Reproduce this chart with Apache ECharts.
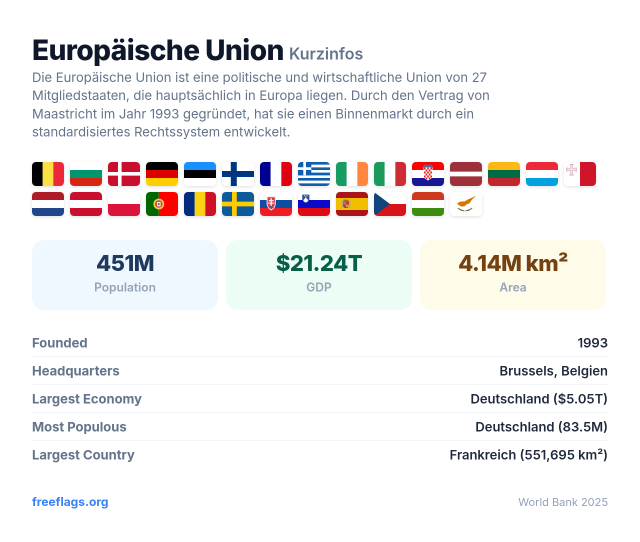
<!DOCTYPE html>
<html>
<head>
<meta charset="utf-8">
<style>
html, body { margin: 0; padding: 0; background: #fff; }
#main { width: 640px; height: 542px; }
</style>
<script src="https://cdn.jsdelivr.net/npm/echarts@6/dist/echarts.min.js"></script>
</head>
<body>
<div id="main"></div>
<script>
var titleText = 'Europäische Union';
var subtitleText = 'Kurzinfos';
var introLines = [
    'Die Europäische Union ist eine politische und wirtschaftliche Union von 27',
    'Mitgliedstaaten, die hauptsächlich in Europa liegen. Durch den Vertrag von',
    'Maastricht im Jahr 1993 gegründet, hat sie einen Binnenmarkt durch ein',
    'standardisiertes Rechtssystem entwickelt.'
];

var flagCodes = ['be', 'bg', 'dk', 'de', 'ee', 'fi', 'fr', 'gr', 'ie', 'it', 'hr', 'lv', 'lt', 'lu', 'mt',
    'nl', 'at', 'pl', 'pt', 'ro', 'se', 'sk', 'si', 'es', 'cz', 'hu', 'cy'];
var flagColumn = [0, 1, 2, 3, 4, 5, 6, 7, 8, 9, 10, 11, 12, 13, 14, 0, 1, 2, 3, 4, 5, 6, 7, 8, 9, 10, 11];
var flagRow = [0, 0, 0, 0, 0, 0, 0, 0, 0, 0, 0, 0, 0, 0, 0, 1, 1, 1, 1, 1, 1, 1, 1, 1, 1, 1, 1];
var columnNames = ['1', '2', '3', '4', '5', '6', '7', '8', '9', '10', '11', '12', '13', '14', '15'];
var rowNames = ['a', 'b'];

var statValues = ['451M', '$21.24T', '4.14M km²'];
var statLabels = ['Population', 'GDP', 'Area'];
var statBackgrounds = ['#f0f8ff', '#ecfdf5', '#fefbe9'];
var statColors = ['#1e3a5f', '#065f46', '#744210'];

var factLabels = ['Founded', 'Headquarters', 'Largest Economy', 'Most Populous', 'Largest Country'];
var factValues = ['1993', 'Brussels, Belgien', 'Deutschland ($5.05T)', 'Deutschland (83.5M)', 'Frankreich (551,695 km²)'];

var footerLeft = 'freeflags.org';
var footerRight = 'World Bank 2025';

var font = 'Inter';

// zrender has no letter spacing, the title and the stat values need it
var fillTextOrig = CanvasRenderingContext2D.prototype.fillText;
CanvasRenderingContext2D.prototype.fillText = function (t, x, y) {
    this.letterSpacing = this.font.indexOf('800') === 0 ? '-0.5px' : '0px';
    return fillTextOrig.call(this, t, x, y);
};

// parts of a flag, in a 32x24 box
function box(x, y, w, h, c) {
    return {type: 'rect', shape: {x: x, y: y, width: w, height: h}, style: {fill: c}};
}
function poly(points, c) {
    return {type: 'polygon', shape: {points: points}, style: {fill: c}};
}
function dot(x, y, r, c) {
    return {type: 'circle', shape: {cx: x, cy: y, r: r}, style: {fill: c}};
}
function vert(a, b, c) {
    var w = 32 / 3;
    return [box(0, 0, w + 0.1, 24, a), box(w, 0, w + 0.1, 24, b), box(2 * w, 0, w, 24, c)];
}
function horz(a, b, c) {
    return [box(0, 0, 32, 8.1, a), box(0, 8, 32, 8.1, b), box(0, 16, 32, 8, c)];
}
function cross(bg, fg, x, y, w) {
    return [box(0, 0, 32, 24, bg), box(x, 0, w, 24, fg), box(0, y, 32, w, fg)];
}

function flagParts(code) {
    switch (code) {
    case 'be': return vert('#000000', '#fae042', '#ed2939');
    case 'bg': return horz('#ffffff', '#00966e', '#d62612');
    case 'dk': return cross('#c8102e', '#ffffff', 10, 10, 3.6);
    case 'de': return horz('#000000', '#dd0000', '#ffce00');
    case 'ee': return horz('#1791ff', '#000000', '#ffffff');
    case 'fi': return cross('#ffffff', '#003580', 8.8, 9, 6);
    case 'fr': return vert('#000091', '#ffffff', '#e1000f');
    case 'gr':
        var g = [box(0, 0, 32, 24, '#ffffff')];
        for (var i = 0; i < 5; i++) g.push(box(0, i * 5.33, 32, 2.67, '#0d5eaf'));
        g.push(box(0, 0, 13.3, 13.3, '#0d5eaf'), box(5.3, 0, 2.67, 13.3, '#ffffff'), box(0, 5.3, 13.3, 2.67, '#ffffff'));
        return g;
    case 'ie': return vert('#169b62', '#ffffff', '#ff883e');
    case 'it': return vert('#1b9a5c', '#ffffff', '#ce2b37');
    case 'hr':
        var h = horz('#ff0000', '#ffffff', '#171796');
        h.push(poly([[11.5, 4.5], [20.5, 4.5], [20.5, 14], [19, 17], [16, 18.5], [13, 17], [11.5, 14]], '#ffffff'));
        h.push(box(11.5, 2.8, 9, 2.6, '#4a6aa8'));
        for (var r = 0; r < 6; r++) {
            for (var k = 0; k < 5; k++) {
                if ((r + k) % 2 === 0) h.push(box(12 + k * 1.6, 5.5 + r * 2, 1.6, 2, '#e8202a'));
            }
        }
        return h;
    case 'lv': return [box(0, 0, 32, 24, '#9e3039'), box(0, 9.6, 32, 4.8, '#ffffff')];
    case 'lt': return horz('#fdb913', '#006a44', '#c1272d');
    case 'lu': return horz('#ed2939', '#ffffff', '#00a1de');
    case 'mt':
        return [box(0, 0, 16, 24, '#ffffff'), box(16, 0, 16, 24, '#cf142b'),
            poly([[5.4, 2], [9.6, 2], [8.6, 6.2], [12.8, 5.4], [12.8, 9.6], [8.6, 8.8], [9.6, 13.6], [5.4, 13.6], [6.4, 8.8], [2.2, 9.6], [2.2, 5.4], [6.4, 6.2]], '#dcb0b8'),
            poly([[6.2, 3], [8.8, 3], [7.9, 6.8], [11.8, 6.2], [11.8, 8.8], [7.9, 8.2], [8.8, 12.6], [6.2, 12.6], [7.1, 8.2], [3.2, 8.8], [3.2, 6.2], [7.1, 6.8]], '#e9e6e7')];
    case 'nl': return horz('#ae1c28', '#ffffff', '#21468b');
    case 'at': return horz('#c8102e', '#ffffff', '#c8102e');
    case 'pl': return [box(0, 0, 32, 12, '#ffffff'), box(0, 12, 32, 12, '#dc143c')];
    case 'pt':
        return [box(0, 0, 12.8, 24, '#006600'), box(12.8, 0, 19.2, 24, '#ff0000'),
            dot(12.8, 12, 5.4, '#e8d04a'), dot(12.8, 12, 3.8, '#d24a36'), box(11, 10, 3.6, 4.4, '#f2f2f2'), box(12.1, 11, 1.4, 2.2, '#3a5aa8')];
    case 'ro': return vert('#002b7f', '#fcd116', '#ce1126');
    case 'se': return cross('#0a5a9c', '#fecb00', 10, 9.6, 4.8);
    case 'sk':
        var s = horz('#ffffff', '#0b4ea2', '#ee1c25');
        s.push(poly([[6.6, 4.2], [15.8, 4.2], [15.8, 12.5], [14.5, 16], [11.2, 18.6], [8, 16], [6.6, 12.5]], '#f4e8e8'));
        s.push(poly([[7.6, 5.2], [14.8, 5.2], [14.8, 12.5], [13.8, 15.4], [11.2, 17.4], [8.6, 15.4], [7.6, 12.5]], '#e0383e'));
        s.push(box(10.5, 6.2, 1.4, 8, '#f8f0f0'), box(8.8, 8, 4.8, 1.2, '#f8f0f0'), box(8.2, 10.6, 6, 1.2, '#f8f0f0'));
        s.push(dot(11.2, 15.2, 1.5, '#3566b4'));
        return s;
    case 'si':
        var v = horz('#ffffff', '#0a0ac8', '#dd0a14');
        v.push(poly([[4.2, 2.6], [11.4, 2.6], [11.4, 7.4], [10.2, 10], [7.8, 11.4], [5.4, 10], [4.2, 7.4]], '#2a52a8'));
        v.push(poly([[5.2, 8.4], [7.8, 5.4], [10.4, 8.4], [9.2, 9.8], [7.8, 10.4], [6.4, 9.8]], '#ffffff'));
        v.push(dot(6.6, 3.8, 0.6, '#ffe14a'), dot(9, 3.8, 0.6, '#ffe14a'), dot(7.8, 4.8, 0.6, '#ffe14a'));
        return v;
    case 'es':
        return [box(0, 0, 32, 6.1, '#aa151b'), box(0, 6, 32, 12.1, '#f1bf00'), box(0, 18, 32, 6, '#aa151b'),
            box(5.6, 8.4, 1.3, 7.6, '#a8a8a0'), box(13, 8.4, 1.3, 7.6, '#a8a8a0'),
            box(7.4, 7.6, 5.2, 2, '#ad6a38'),
            poly([[7, 9.4], [13, 9.4], [13, 14.2], [11.6, 16], [8.4, 16], [7, 14.2]], '#b8402f'),
            box(7.2, 9.6, 2.8, 3, '#c96f4a'), box(10, 12.6, 2.8, 2.4, '#d6a04a')];
    case 'cz': return [box(0, 0, 32, 12, '#ffffff'), box(0, 12, 32, 12, '#d7141a'), poly([[0, 0], [16, 12], [0, 24]], '#11457e')];
    case 'hu': return horz('#cd3a1f', '#ffffff', '#3d8b0f');
    case 'cy':
        return [box(0, 0, 32, 24, '#ffffff'),
            poly([[7, 11.6], [10, 9.6], [14.6, 9.4], [18, 7.4], [22, 5.6], [26.4, 3.8], [22.8, 6.8], [21, 9], [19.6, 11.4], [16.6, 12.4], [14.6, 14.2], [11.6, 14.6], [9, 13.2]], '#d57800'),
            poly([[8, 15.6], [11, 17.4], [14.4, 18.2], [14.4, 19.4], [10.6, 18.6], [7.6, 16.4]], '#6b7350'),
            poly([[22, 15.6], [19, 17.4], [15.6, 18.2], [15.6, 19.4], [19.4, 18.6], [22.4, 16.4]], '#6b7350')];
    }
    return [];
}

function renderFlag(params, api) {
    var code = flagCodes[params.dataIndex];
    var center = api.coord([api.value(0), api.value(1)]);
    var w = api.size([1, 0])[0] - 6;
    var h = w * 0.75;
    var x = center[0] - w / 2;
    var y = center[1] - h / 2;
    return {
        type: 'group',
        children: [
            {
                type: 'rect',
                shape: {x: x, y: y, width: w, height: h, r: 4},
                style: {fill: '#ffffff', shadowBlur: 3, shadowOffsetY: 1, shadowColor: 'rgba(0,0,0,0.12)'}
            },
            {
                type: 'group',
                x: x,
                y: y,
                scaleX: w / 32,
                scaleY: h / 24,
                clipPath: {type: 'rect', shape: {x: 0, y: 0, width: 32, height: 24, r: 4}},
                children: flagParts(code)
            }
        ]
    };
}

function label(x, y, text, size, weight, color, align) {
    return {
        type: 'text',
        x: x,
        y: y,
        silent: true,
        style: {
            text: text,
            fill: color,
            font: weight + ' ' + size + 'px ' + font,
            textAlign: align || 'left',
            textVerticalAlign: 'middle'
        }
    };
}

var graphics = [];
graphics.push(label(32, 51.5, titleText, 28, 800, '#0f172a'));
graphics.push(label(289, 54.5, subtitleText, 16, 600, '#64748b'));
introLines.forEach(function (line, i) {
    graphics.push(label(32, 78 + i * 18.2, line, 13, 400, '#64748b'));
});
statValues.forEach(function (value, i) {
    var left = 32 + i * 194;
    graphics.push({
        type: 'rect',
        shape: {x: left, y: 240, width: 186, height: 70, r: 12},
        style: {fill: statBackgrounds[i]}
    });
    graphics.push(label(left + 93, 264.5, value, 22, 800, statColors[i], 'center'));
    graphics.push(label(left + 93, 288, statLabels[i], 12, 600, '#94a3b8', 'center'));
});
factLabels.forEach(function (name, i) {
    var y = 343.5 + i * 28;
    graphics.push(label(32, y, name, 13, 650, '#64748b'));
    graphics.push(label(608, y, factValues[i], 13, 600, '#1e293b', 'right'));
    if (i < factLabels.length - 1) {
        graphics.push({
            type: 'rect',
            shape: {x: 32, y: y + 12.5, width: 576, height: 1},
            style: {fill: '#f1f5f9'}
        });
    }
});
graphics.push(label(32, 502.5, footerLeft, 12, 700, '#3b82f6'));
graphics.push(label(608, 502.5, footerRight, 11, 400, '#94a3b8', 'right'));

var option = {
    backgroundColor: '#ffffff',
    animation: false,
    grid: {left: 29, top: 159, width: 570, height: 60},
    xAxis: {type: 'category', data: columnNames, show: false},
    yAxis: {type: 'category', data: rowNames, inverse: true, show: false},
    series: [{
        type: 'custom',
        renderItem: renderFlag,
        encode: {x: 0, y: 1},
        clip: false,
        data: flagColumn.map(function (c, i) { return [c, flagRow[i]]; })
    }],
    graphic: {elements: graphics}
};

var myChart = echarts.init(document.getElementById('main'), null, {devicePixelRatio: 2});
myChart.setOption(option);
</script>
</body>
</html>
